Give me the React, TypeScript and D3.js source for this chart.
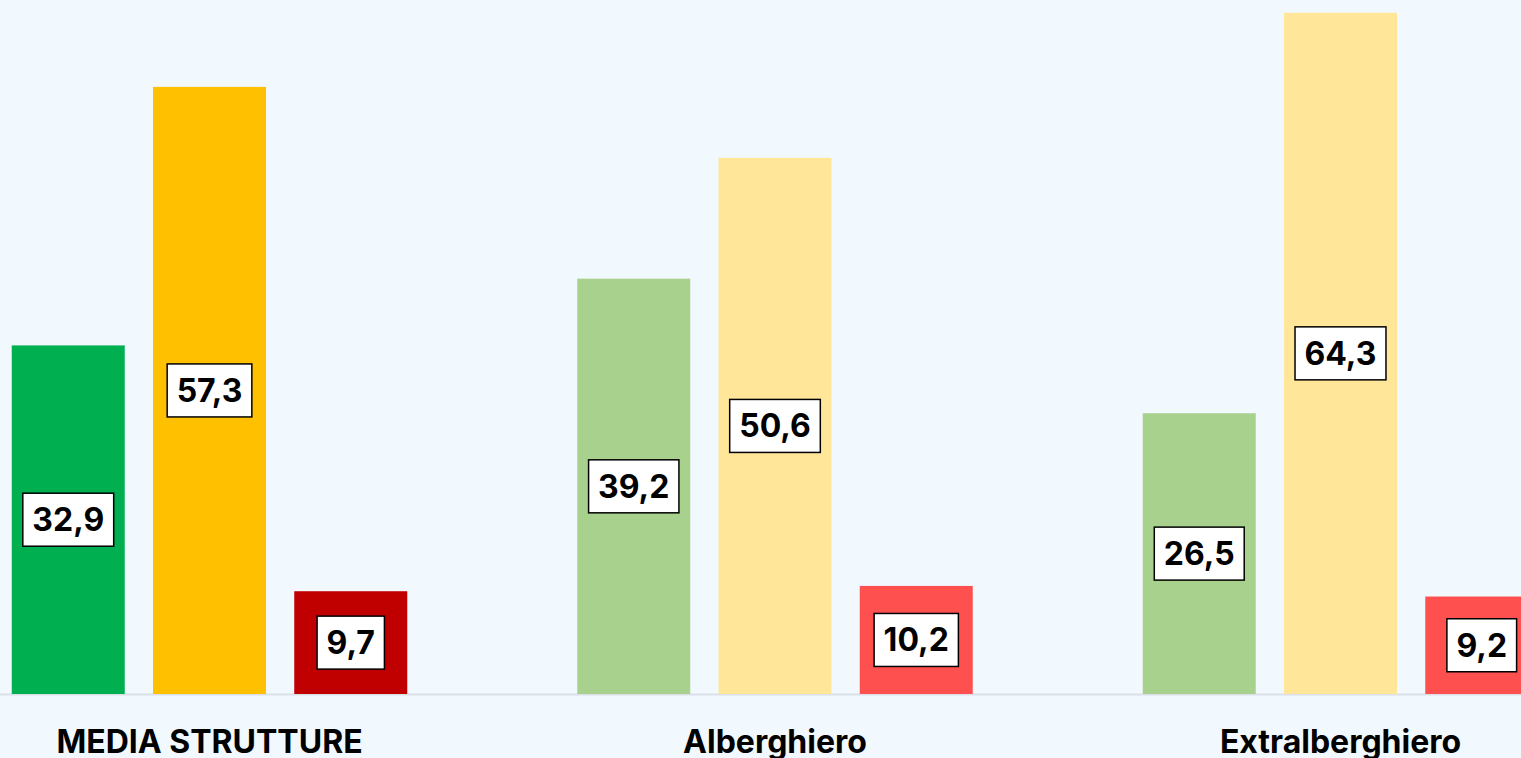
import React from "react";
import * as d3 from "d3";

const categories = ["MEDIA STRUTTURE", "Alberghiero", "Extralberghiero"];
const seriesNames = ["Positivo", "Neutro", "Negativo"];
const positivo = [32.9, 39.2, 26.5];
const neutro = [57.3, 50.6, 64.3];
const negativo = [9.7, 10.2, 9.2];
const seriesValues = [positivo, neutro, negativo];
// colours: first group saturated, others light
const strongColors = ["#00B050", "#FFC000", "#C00000"];
const lightColors = ["#A9D18E", "#FFE699", "#FF5050"];

const W = 1521;
const H = 758;
const FONT = "Inter, 'Noto Sans', sans-serif";

const itFormat = d3.formatLocale({ decimal: ",", thousands: ".", grouping: [3], currency: ["€", ""] }).format(".1f");

function measure(text: string, size: number) {
  if (typeof document === "undefined") return text.length * size * 0.55;
  const c = document.createElement("canvas");
  const ctx = c.getContext("2d");
  if (!ctx) return text.length * size * 0.55;
  ctx.font = `bold ${size}px Inter, 'Noto Sans', sans-serif`;
  return ctx.measureText(text).width;
}

export default function App() {
  const baseY = 694;
  const y = d3.scaleLinear().domain([0, 65.5]).range([baseY, 0]);
  const x0 = d3.scaleBand<string>().domain(categories).range([-73.25, 1623.25]).paddingInner(0).paddingOuter(0);
  const x1 = d3.scaleBand<string>().domain(seriesNames).range([85, 480.5]).paddingInner(0.2).paddingOuter(0);
  const labelSize = 32;

  return (
    <div style={{ position: "absolute", left: 0, top: 0, width: W, height: H, overflow: "hidden" }}>
      <svg width={W} height={H} style={{ display: "block", fontFamily: FONT }}>
        <rect x={0} y={0} width={W} height={H} fill="#F1F8FE" />
        <line x1={0} x2={W} y1={baseY + 0.5} y2={baseY + 0.5} stroke="#DADFE8" strokeWidth={2} />
        {categories.map((cat, ci) => {
          const gx = x0(cat) as number;
          return (
            <g key={cat} transform={`translate(${gx},0)`}>
              {seriesNames.map((s, si) => {
                const v = seriesValues[si][ci];
                const bx = x1(s) as number;
                const bw = x1.bandwidth();
                const top = y(v);
                const color = ci === 0 ? strongColors[si] : lightColors[si];
                return (
                  <rect key={s} x={bx} y={top} width={bw} height={baseY - top} fill={color} />
                );
              })}
              {seriesNames.map((s, si) => {
                const v = seriesValues[si][ci];
                const bx = x1(s) as number;
                const bw = x1.bandwidth();
                const top = y(v);
                const cx = bx + bw / 2;
                const cy = (top + baseY) / 2;
                const txt = itFormat(v);
                const tw = measure(txt, labelSize);
                const boxW = tw + 19;
                const boxH = 53;
                return (
                  <g key={s + "-lbl"}>
                    <rect x={cx - boxW / 2} y={cy - boxH / 2} width={boxW} height={boxH} fill="#FFFFFF" stroke="#000000" strokeWidth={1.5} />
                    <text x={cx} y={cy + 11.5} textAnchor="middle" fontSize={labelSize} fontWeight={700} fill="#000000">
                      {txt}
                    </text>
                  </g>
                );
              })}
              <text x={x0.bandwidth() / 2} y={753} textAnchor="middle" fontSize={32} fontWeight={700} fill="#000000">
                {cat}
              </text>
            </g>
          );
        })}
      </svg>
    </div>
  );
}
